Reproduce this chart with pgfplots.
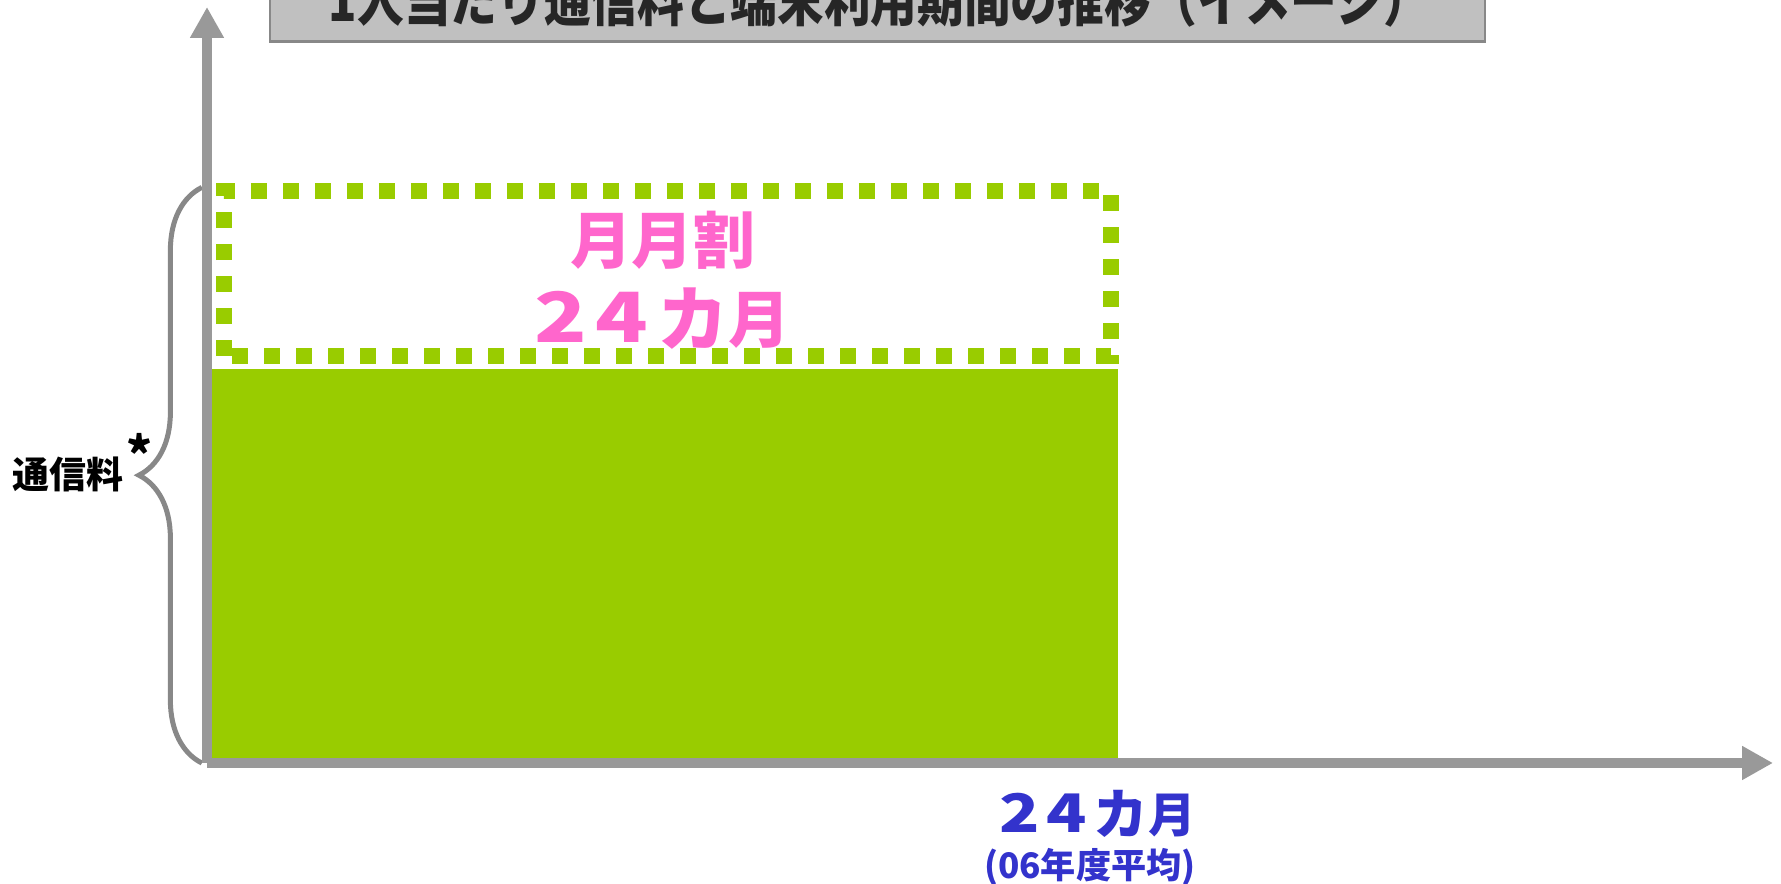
\documentclass[border=0pt]{standalone}
\usepackage{fontspec}
\setmainfont{Noto Sans CJK JP}
\usepackage{graphicx}
\usepackage{pgfplots}
\pgfplotsset{compat=1.18}
\usetikzlibrary{arrows.meta,decorations.pathreplacing}

\definecolor{axisgray}{HTML}{999999}
\definecolor{bracegray}{HTML}{888888}
\definecolor{barg}{HTML}{99CC00}
\definecolor{pinktxt}{HTML}{FF66CC}
\definecolor{bluetxt}{HTML}{3333CC}
\definecolor{titlefill}{HTML}{C0C0C0}

% wide digits and a larger ka, like the original's rounded gothic
\newcommand{\widedigit}[1]{\scalebox{1.4}[1.12]{#1}\hspace{0.14em}}
\newcommand{\bigka}{\raisebox{-0.04em}{\scalebox{1.15}{カ}}}

\begin{document}
\begin{tikzpicture}
\useasboundingbox (0,0) rectangle (17.81cm,8.84cm);
% page and annotations in pixel units (1px = 0.01cm)
\begin{scope}[x=0.01cm,y=0.01cm]
% title box, cut off at the top of the page
\draw[draw=bracegray, line width=0.025cm, fill=titlefill] (270,964) rectangle (1486,843);
\node[anchor=base, xscale=0.83, text=black!85, font=\bfseries\fontsize{16}{16}\selectfont]
  at (880,863) {1人当たり通信料と端末利用期間の推移（イメージ）};
% brace for the fee
\draw[bracegray, line width=0.05cm, decorate, decoration={brace, amplitude=0.63cm}] (202,121) -- (202,697);
\node[font=\bfseries\fontsize{10.5}{10.5}\selectfont] at (68,410) {通信料};
\node[font=\bfseries\fontsize{14}{14}\selectfont] at (140,431) {*};
\end{scope}

\begin{axis}[
    at={(2.07cm,1.21cm)}, anchor=south west,
    scale only axis, width=15.66cm, height=7.56cm,
    xmin=0, xmax=41.26, ymin=0, ymax=191.9,
    axis x line=bottom, axis y line=left,
    axis line style={draw=axisgray, line width=0.1cm},
    x axis line style={-{Triangle[width=0.32cm,length=0.31cm]}},
    y axis line style={-{Triangle[width=0.32cm,length=0.31cm]}},
    xtick=\empty, ytick=\empty,
    axis on top, clip=false,
]
% actual fee, 24 months
\addplot[fill=barg, draw=none] coordinates {(0,0) (0,100) (24,100) (24,0)} \closedcycle;
% fee before the monthly discount
\addplot[draw=barg, line width=0.16cm, dash pattern=on 0.16cm off 0.16cm]
  coordinates {(0.448,103.3) (0.448,145.2) (23.816,145.2) (23.816,103.3) (0.448,103.3)};

\node[text=pinktxt, font=\bfseries\fontsize{17.6}{17.6}\selectfont] at (axis cs:12.01,132.7) {月月割};
\node[text=pinktxt, font=\bfseries\fontsize{17.6}{17.6}\selectfont] at (axis cs:12.0,112.9) {\widedigit{2}\widedigit{4}\bigka 月};
\node[text=bluetxt, font=\bfseries\fontsize{13.5}{13.5}\selectfont] at (axis cs:23.47,-12.9) {\widedigit{2}\widedigit{4}\bigka 月};
\node[text=bluetxt, font=\bfseries\fontsize{10}{10}\selectfont] at (axis cs:23.26,-26.4) {(06年度平均)};
\end{axis}
\end{tikzpicture}
\end{document}
